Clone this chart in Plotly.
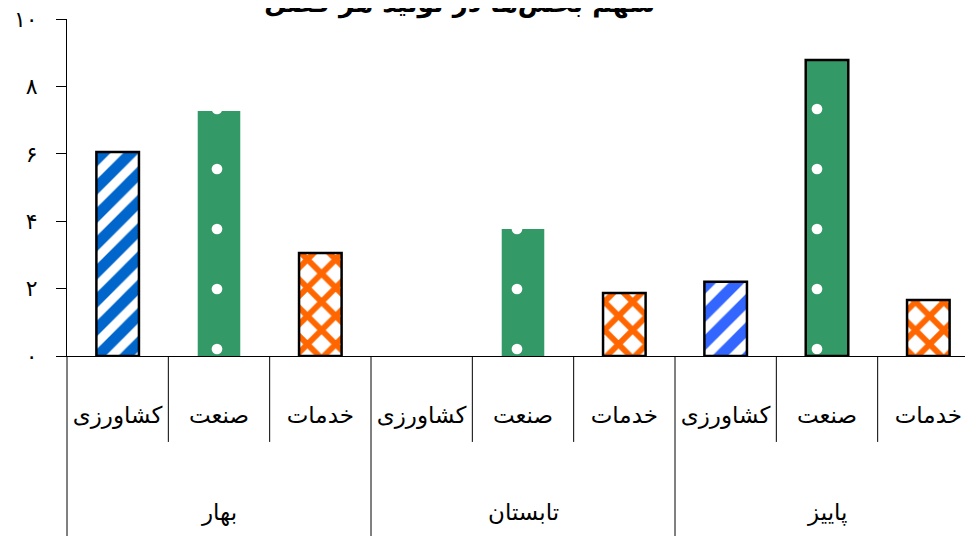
import plotly.graph_objects as go

seasons = ["بهار", "تابستان", "پاییز"]
sectors = ["کشاورزی", "صنعت", "خدمات"]
agri = [6.05, None, 2.2]
industry = [7.27, 3.77, 8.78]
services = [3.06, 1.87, 1.66]
y_ticks = [0, 2, 4, 6, 8, 10]
y_labels = ["۰", "۲", "۴", "۶", "۸", "۱۰"]
title_text = "سهم بخش‌ها در تولید هر فصل"

# هر فصل سه ستون دارد
pos = {s: [3 * k + j for k in range(3)] for j, s in enumerate(sectors)}
tick_pos = list(range(9))
tick_text = sectors * 3

fig = go.Figure()
fig.add_trace(go.Bar(
    x=pos["کشاورزی"], y=agri, width=0.42, name="کشاورزی",
    marker=dict(color="#0066CC", line=dict(color="black", width=2.5),
                pattern=dict(shape="/", fillmode="replace", bgcolor="white",
                             fgcolor=["#0066CC", "#0066CC", "#3366FF"],
                             size=20, solidity=0.55)),
))
fig.add_trace(go.Bar(
    x=pos["صنعت"], y=industry, width=0.42, name="صنعت",
    marker=dict(color="#339966", line=dict(color="black", width=[0, 0, 2.5]),
                pattern=dict(shape=".", fillmode="replace", bgcolor="#339966",
                             fgcolor="white", size=60, solidity=0.025)),
))
fig.add_trace(go.Bar(
    x=pos["خدمات"], y=services, width=0.42, name="خدمات",
    marker=dict(color="#FF6600", line=dict(color="black", width=2.5),
                pattern=dict(shape="x", fillmode="replace", bgcolor="white",
                             fgcolor="#FF6600", size=20, solidity=0.5)),
))

# خطوط جداکننده زیر محور افقی
n = len(tick_pos)
for i in range(0, n):
    long_line = i % 3 == 0
    fig.add_shape(type="line", xref="paper", yref="paper",
                  x0=i / n, x1=i / n, y0=0, y1=-0.6 if long_line else -0.255,
                  line=dict(color="black", width=1))

for k, s in enumerate(seasons):
    fig.add_annotation(text=s, x=3 * k + 1, xref="x", yref="paper", y=-0.463,
                       yanchor="middle", showarrow=False, font=dict(size=23))

fig.add_annotation(text="<b>" + title_text + "</b>", xref="paper", yref="paper",
                   x=0.43, y=0.995, xanchor="center", yanchor="bottom", showarrow=False,
                   font=dict(size=26, color="black"))

fig.update_layout(
    width=990, height=560,
    margin=dict(l=59, r=19, t=11, b=212, autoexpand=False),
    plot_bgcolor="white", paper_bgcolor="white",
    font=dict(family="DejaVu Sans", size=23, color="black"),
    showlegend=False,
)
fig.update_xaxes(range=[-0.5, 8.5], tickvals=tick_pos, ticktext=tick_text, showline=True,
                 linecolor="black", linewidth=1, ticks="", tickfont=dict(size=23),
                 ticklabelstandoff=38, showgrid=False, zeroline=False, automargin=False)
fig.update_yaxes(range=[0, 10], tickvals=y_ticks, ticktext=y_labels, ticks="outside",
                 ticklen=10, tickcolor="black", showline=True, linecolor="black",
                 linewidth=1, showgrid=False, zeroline=False, ticklabelstandoff=14,
                 tickfont=dict(size=22), ticklabeloverflow="allow", automargin=False)

fig.write_html("out.html")
